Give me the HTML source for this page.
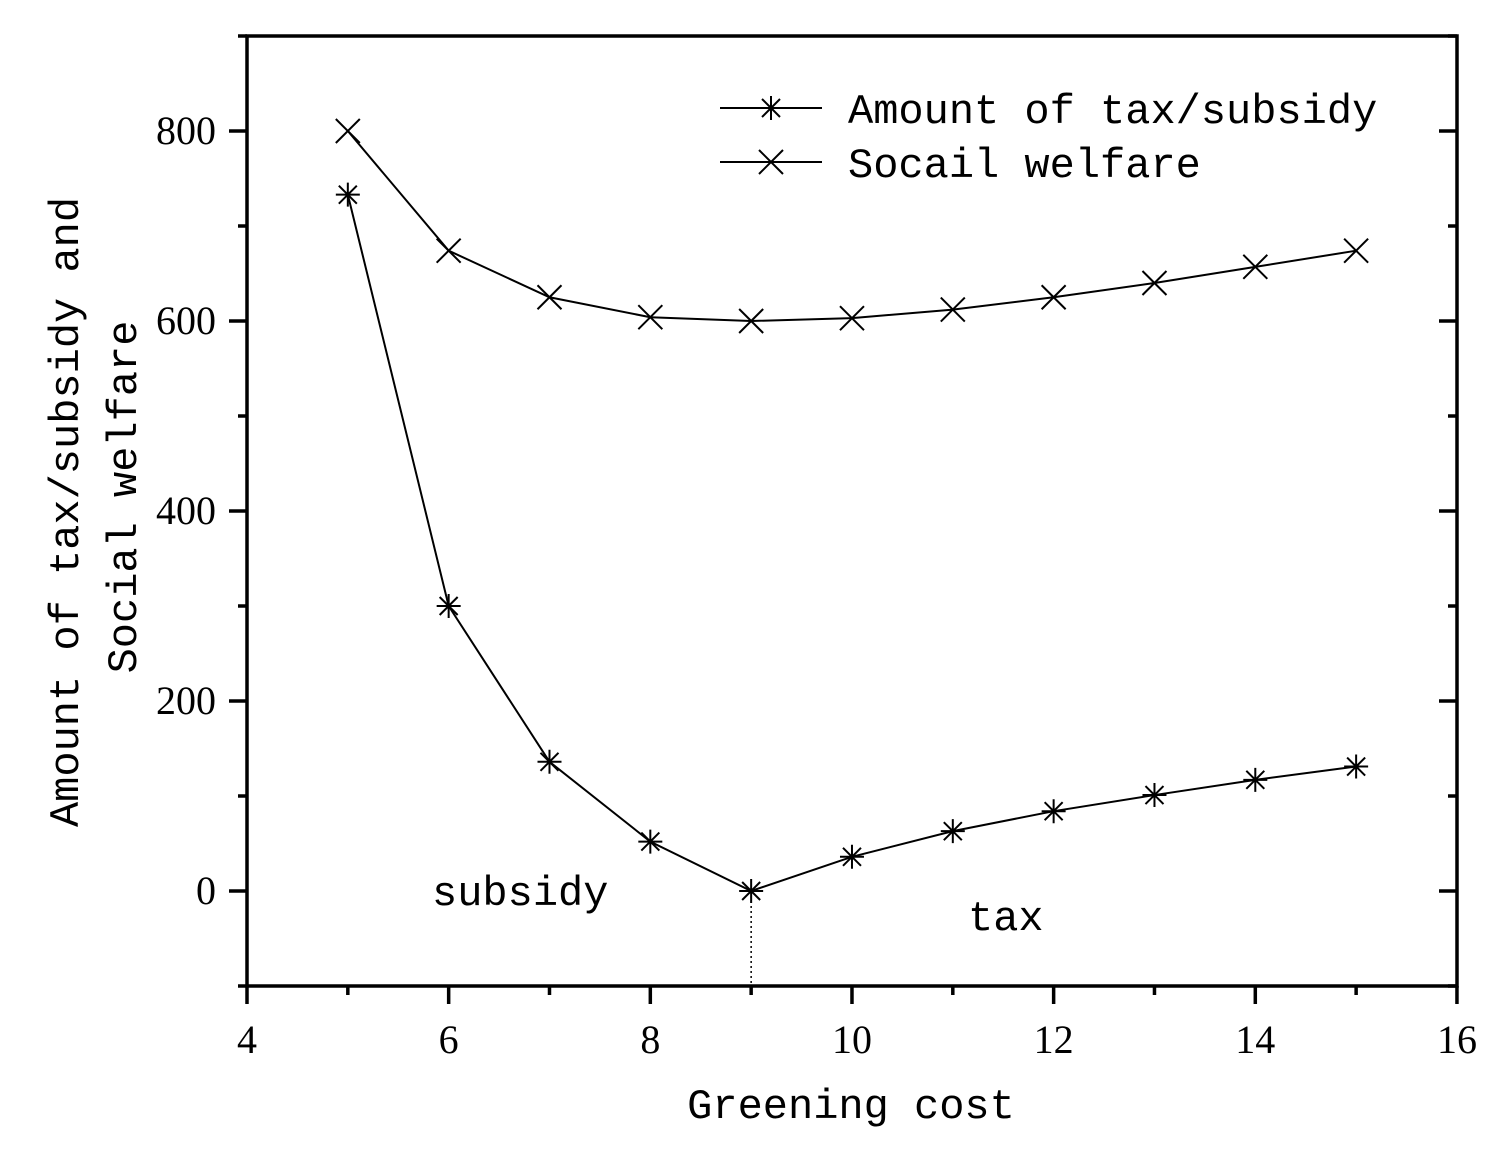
<!DOCTYPE html>
<html><head><meta charset="utf-8"><style>
html,body{margin:0;padding:0;background:#fff;}
svg{display:block;}
.t{font-family:"Liberation Serif",serif;font-size:40px;fill:#000;}
.m{font-family:"Liberation Mono",monospace;font-size:42px;fill:#000;}
</style></head><body>
<svg id="s" width="1504" height="1150" xmlns="http://www.w3.org/2000/svg">
<rect x="0" y="0" width="1504" height="1150" fill="#fff"/>
<g id="g" stroke="#000" fill="none"></g>
<g id="tx"></g>
<text class="m" x="848" y="123">Amount of tax/subsidy</text>
<text class="m" x="848" y="177">Socail welfare</text>
<text class="m" x="432" y="905">subsidy</text>
<text class="m" x="968" y="930">tax</text>
<text class="m" x="851" y="1118" text-anchor="middle">Greening cost</text>
<text class="m" transform="translate(78,512) rotate(-90)" text-anchor="middle">Amount of tax/subsidy and</text>
<text class="m" transform="translate(136,497) rotate(-90)" text-anchor="middle">Social welfare</text>
</svg>
<script>
const g=document.getElementById('g'),tx=document.getElementById('tx');
const NS='http://www.w3.org/2000/svg';
function el(p,tag,a){const e=document.createElementNS(NS,tag);for(const k in a)e.setAttribute(k,a[k]);p.appendChild(e);return e;}
const X=v=>247+(v-4)*100.83, Y=v=>891-0.95*v;
let L=247,R=1457,T=36,B=986;
el(g,'rect',{x:L,y:T,width:R-L,height:B-T,'stroke-width':3.5});
for(let v=4;v<=16;v+=1){const x=X(v);const maj=v%2==0;
 el(g,'line',{x1:x,y1:B,x2:x,y2:B+(maj?18:9),'stroke-width':3.5});
 if(maj){const t=el(tx,'text',{x:x,y:1053,'text-anchor':'middle',class:'t'});t.textContent=v;}}
for(let v=-100;v<=900;v+=100){const y=Y(v);if(y<T||y>B)continue;const maj=v%200==0;
 el(g,'line',{x1:L,y1:y,x2:L-(maj?18:9),y2:y,'stroke-width':3.5});
 el(g,'line',{x1:R,y1:y,x2:R-(maj?18:9),y2:y,'stroke-width':3.5});
 if(maj){const t=el(tx,'text',{x:216,y:y+13,'text-anchor':'end',class:'t'});t.textContent=v;}}
const a=[733,300,136,52,0,36,63,84,101,117,131], w=[800,674,625,604,600,603,612,625,640,657,674];
function poly(d){el(g,'polyline',{points:d.map((v,i)=>X(5+i)+','+Y(v)).join(' '),'stroke-width':2});}
poly(a);poly(w);
function xm(x,y){const s=12;el(g,'path',{d:`M${x-s},${y-s}L${x+s},${y+s}M${x-s},${y+s}L${x+s},${y-s}`,'stroke-width':2});}
function am(x,y){const s=12,d=9;el(g,'path',{d:`M${x-s},${y}L${x+s},${y}M${x},${y-s}L${x},${y+s}M${x-d},${y-d}L${x+d},${y+d}M${x-d},${y+d}L${x+d},${y-d}`,'stroke-width':2});}
a.forEach((v,i)=>am(X(5+i),Y(v)));w.forEach((v,i)=>xm(X(5+i),Y(v)));
el(g,'line',{x1:X(9),y1:Y(0),x2:X(9),y2:B,'stroke-width':1.5,'stroke-dasharray':'2,3'});
el(g,'line',{x1:720,y1:108,x2:822,y2:108,'stroke-width':2});am(771,108);
el(g,'line',{x1:720,y1:162,x2:822,y2:162,'stroke-width':2});xm(771,162);
</script>
</body></html>
